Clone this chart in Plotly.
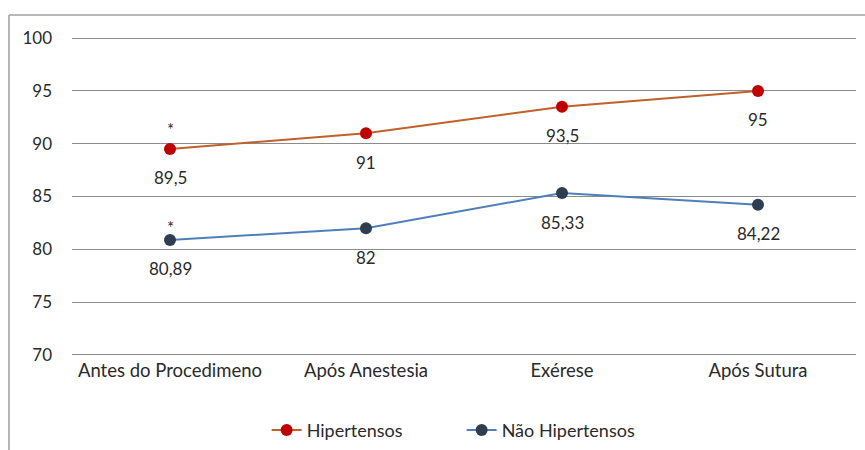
import plotly.graph_objects as go

categories = ["Antes do Procedimeno", "Após Anestesia", "Exérese", "Após Sutura"]
hipertensos = [89.5, 91, 93.5, 95]
nao_hipertensos = [80.89, 82, 85.33, 84.22]
y_ticks = [70, 75, 80, 85, 90, 95, 100]

FONT = "Lato, Carlito, 'Open Sans', sans-serif"
TXT = "#2A2A2A"
FS = 17

fig = go.Figure()
fig.add_trace(go.Scatter(
    x=categories, y=hipertensos, name="Hipertensos", mode="lines+markers",
    line=dict(color="#C0602A", width=2),
    marker=dict(color="#C00000", size=12),
))
fig.add_trace(go.Scatter(
    x=categories, y=nao_hipertensos, name="Não Hipertensos", mode="lines+markers",
    line=dict(color="#4F7FB8", width=2),
    marker=dict(color="#2E3D4F", size=12),
))

def fmt(v):
    s = f"{v:g}"
    return s.replace(".", ",")

annotations = []
for series in (hipertensos, nao_hipertensos):
    for c, v in zip(categories, series):
        annotations.append(dict(x=c, y=v, text=fmt(v), showarrow=False, yshift=-29,
                                font=dict(family=FONT, size=FS, color=TXT)))
# significance asterisks on first category
annotations.append(dict(x=categories[0], y=hipertensos[0], text="*", showarrow=False, yshift=19,
                        font=dict(family=FONT, size=FS, color=TXT)))
annotations.append(dict(x=categories[0], y=nao_hipertensos[0], text="*", showarrow=False, yshift=12,
                        font=dict(family=FONT, size=FS, color=TXT)))

fig.update_layout(
    width=865, height=450,
    margin=dict(l=72, r=9, t=36, b=93, autoexpand=False),
    paper_bgcolor="white", plot_bgcolor="white",
    font=dict(family=FONT, size=FS, color=TXT),
    showlegend=True,
    legend=dict(orientation="h", x=0.497, xanchor="center", y=-0.171, yanchor="top",
                font=dict(family=FONT, size=18, color=TXT), itemwidth=30, entrywidth=150),
    annotations=annotations,
    shapes=[
        dict(type="line", xref="paper", yref="paper", x0=-0.0804, x1=1.02, y0=1.0654, y1=1.0654,
             line=dict(color="#A0A0A0", width=1.5)),
        dict(type="line", xref="paper", yref="paper", x0=-0.0804, x1=-0.0804, y0=1.0654, y1=-0.30,
             line=dict(color="#A0A0A0", width=1.5)),
    ],
)
fig.update_xaxes(type="category", showgrid=False, showline=False, ticks="", automargin=False,
                 tickfont=dict(family=FONT, size=18.5, color=TXT), range=[-0.5, 3.5])
fig.update_yaxes(range=[69.8, 100.2], tickvals=y_ticks, showgrid=True, gridcolor="#8C8C8C", gridwidth=1,
                 zeroline=False, showline=False, ticks="", ticklabelstandoff=19, automargin=False,
                 tickfont=dict(family=FONT, size=FS, color=TXT))

fig.write_html("out.html", config={"displayModeBar": False},
               post_script="document.body.style.margin='0px';")
